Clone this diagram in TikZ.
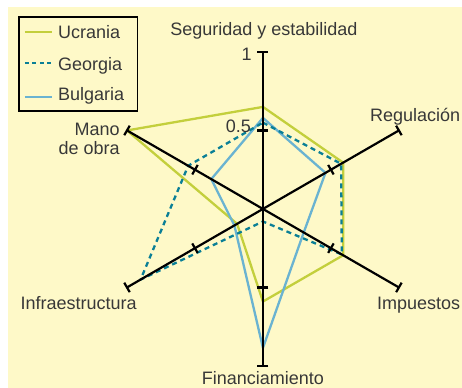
\documentclass[tikz,border=0pt]{standalone}
\usepackage{fontspec}
\setmainfont{Liberation Sans}
\usepackage{tikz}

\definecolor{fondo}{HTML}{FEF9C8}
\definecolor{ucrania}{HTML}{C3CF3C}
\definecolor{georgia}{HTML}{0A7F96}
\definecolor{bulgaria}{HTML}{6AB3D1}
\definecolor{texto}{HTML}{383838}

\begin{document}
\begin{tikzpicture}[x=157pt,y=157pt,
		etiqueta/.style={font=\fontsize{18}{19}\selectfont, text=texto, inner sep=0pt},
		eje/.style={black, line width=2.2pt},
		ucr/.style={ucrania, line width=2.3pt, line join=round},
		geo/.style={georgia, line width=2.3pt, dash pattern=on 5pt off 4pt, line join=round},
		bul/.style={bulgaria, line width=2.3pt, line join=round}]
			\useasboundingbox (-1.675,-1.140) rectangle (1.268,1.331);
			\fill[fondo] (-1.624,-1.140) rectangle (1.268,1.287);
			
			\coordinate (o) at (0,0);
			
			% datos
			\draw[ucr] (90:0.65) -- (30:0.59) -- (-30:0.59) -- (-90:0.59) -- (-150:0.19) -- (150:1) -- cycle;
			\draw[bul] (90:0.58) -- (30:0.46) -- (-30:0.30) -- (-90:0.885) -- (-150:0.21) -- (150:0.38) -- cycle;
			\draw[geo] (90:0.55) -- (30:0.575) -- (-30:0.58) -- (-90:0.08) -- (-150:0.90) -- (150:0.55) -- cycle;
			
			% ejes
			\foreach \a in {90,30,-30,-90,-150,150} {
				\draw[eje] (o) -- (\a:1);
				\foreach \r in {0.5,1}
					\draw[eje] (\a:\r) ++(\a+90:0.035) -- ++(\a-90:0.07);
			}
			
			\node[etiqueta, anchor=base] (seg) at (0.006,1.108) {Seguridad y estabilidad};
			\node[etiqueta, anchor=base east] (uno) at (-0.07,0.943) {1};
			\node[etiqueta, anchor=base east] (medio) at (-0.076,0.49) {0.5};
			\node[etiqueta, anchor=base east] (reg) at (1.258,0.56) {Regulación};
			\node[etiqueta, anchor=base east] (imp) at (1.258,-0.643) {Impuestos};
			\node[etiqueta, anchor=base] (fin) at (0,-1.121) {Financiamiento};
			\node[etiqueta, anchor=base east] (inf) at (-0.803,-0.643) {Infraestructura};
			\node[etiqueta, anchor=north east, align=right] (mano) at (-0.911,0.548) {Mano\\de obra};
			
			% leyenda
			\draw[line width=1.3pt] (-1.554,0.624) rectangle (-0.8,1.223);
			\draw[ucr] (-1.516,1.127) -- (-1.344,1.127);
			\draw[geo, dash pattern=on 4pt off 3.5pt] (-1.516,0.930) -- (-1.344,0.930);
			\draw[bul] (-1.516,0.713) -- (-1.344,0.713);
			\node[etiqueta, anchor=base west] (lucr) at (-1.306,1.083) {Ucrania};
			\node[etiqueta, anchor=base west] (lgeo) at (-1.306,0.879) {Georgia};
			\node[etiqueta, anchor=base west] (lbul) at (-1.306,0.688) {Bulgaria};
			
		\end{tikzpicture}
\end{document}
